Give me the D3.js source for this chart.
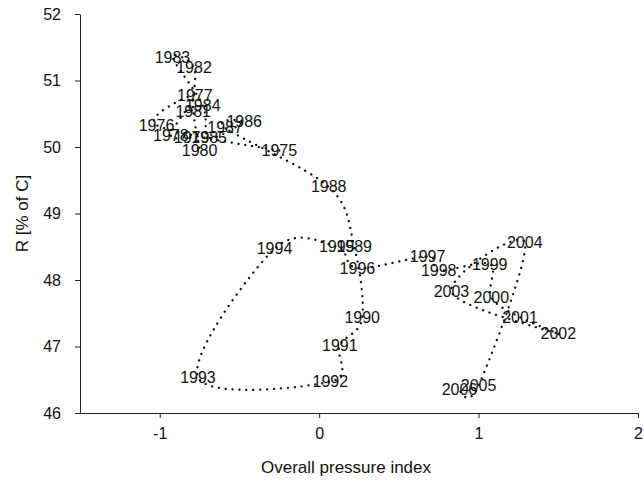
<!DOCTYPE html>
<html>
<head>
<meta charset="utf-8">
<script src="https://cdn.jsdelivr.net/npm/d3@7"></script>
<style>
  html, body { margin: 0; padding: 0; background: #fff; }
  svg { display: block; font-family: "Liberation Sans", Arial, sans-serif; }
</style>
</head>
<body>
<svg id="chart" width="644" height="483"></svg>
<script>
const years = [1975,1976,1977,1978,1979,1980,1981,1982,1983,1984,1985,1986,1987,1988,1989,1990,
               1991,1992,1993,1994,1995,1996,1997,1998,1999,2000,2001,2002,2003,2004,2005,2006];
const pressureIndex = [-0.25,-1.02,-0.78,-0.93,-0.80,-0.75,-0.79,-0.785,-0.92,-0.73,-0.69,-0.47,-0.59,0.06,0.22,0.27,
                       0.13,0.07,-0.76,-0.28,0.11,0.24,0.68,0.75,1.07,1.08,1.26,1.50,0.83,1.29,1.00,0.88];
const rPercent = [49.95,50.33,50.78,50.18,50.14,49.95,50.54,51.19,51.35,50.63,50.14,50.38,50.29,49.40,48.50,47.43,
                  47.02,46.47,46.54,48.47,48.50,48.18,48.35,48.14,48.24,47.74,47.44,47.19,47.82,48.56,46.41,46.35];
const xTicks = [-1, 0, 1, 2];
const yTicks = [46, 47, 48, 49, 50, 51, 52];
const xTitle = "Overall pressure index";
const yTitle = "R [% of C]";

const svg = d3.select("#chart");
const x = d3.scaleLinear().domain([-1.5, 2]).range([80, 638]);
const y = d3.scaleLinear().domain([46, 52]).range([413, 14]);

const data = years.map((yr, i) => ({ year: yr, px: pressureIndex[i], r: rPercent[i] }));

// axes
const xAxis = svg.append("g").attr("transform", `translate(0,${y(46)})`)
  .call(d3.axisBottom(x).tickValues(xTicks).tickSize(5).tickSizeOuter(0).tickPadding(10).tickFormat(d => String(d)));
const yAxis = svg.append("g").attr("transform", `translate(${x(-1.5)},0)`)
  .call(d3.axisLeft(y).tickValues(yTicks).tickSize(5).tickSizeOuter(0).tickPadding(14).tickFormat(d => String(d)));
[xAxis, yAxis].forEach(g => {
  g.selectAll("path,line").attr("stroke", "#222").attr("stroke-width", 1);
  g.selectAll("text").attr("font-size", 16).attr("fill", "#111")
    .attr("font-family", '"Liberation Sans", Arial, sans-serif');
});

// line
const line = d3.line().x(d => x(d.px)).y(d => y(d.r)).curve(d3.curveCardinal.tension(0));
svg.append("path").datum(data)
  .attr("d", line)
  .attr("fill", "none")
  .attr("stroke", "#111")
  .attr("stroke-width", 2.3)
  .attr("stroke-linecap", "round")
  .attr("stroke-dasharray", "0.1 6.8");

// labels
svg.append("g").selectAll("text").data(data).join("text")
  .attr("x", d => x(d.px))
  .attr("y", d => y(d.r))
  .attr("text-anchor", "middle")
  .attr("dominant-baseline", "central")
  .attr("font-size", 16)
  .attr("fill", "#111")
  .text(d => d.year);

// titles
svg.append("text").attr("x", 346).attr("y", 473)
  .attr("text-anchor", "middle").attr("font-size", 17).attr("fill", "#111").text(xTitle);
svg.append("text").attr("transform", `translate(28,${(y(46)+y(52))/2}) rotate(-90)`)
  .attr("text-anchor", "middle").attr("font-size", 17).attr("fill", "#111").text(yTitle);
</script>
</body>
</html>
